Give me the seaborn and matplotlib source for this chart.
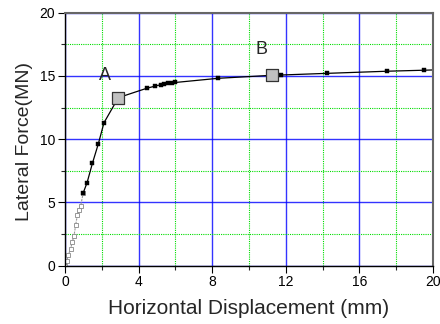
import matplotlib
matplotlib.use("Agg")
import matplotlib.pyplot as plt
import seaborn as sns
import numpy as np
import pandas as pd
from matplotlib.ticker import MultipleLocator

# Data
disp_low = [0.0, 0.1, 0.18, 0.3, 0.4, 0.49, 0.58, 0.67, 0.76, 0.85, 0.995]
force_low = [0.0, 0.4, 0.85, 1.3, 1.9, 2.37, 3.2, 4.0, 4.4, 4.72, 5.77]
disp_main = [0.995, 1.2, 1.49, 1.81, 2.12, 2.9, 4.44, 4.91, 5.2, 5.4, 5.6, 5.8, 6.0,
             8.33, 11.27, 11.74, 14.22, 17.52, 19.53, 20.0]
force_main = [5.77, 6.56, 8.09, 9.62, 11.3, 13.28, 14.02, 14.2, 14.3, 14.37, 14.42, 14.46, 14.48,
              14.81, 15.05, 15.07, 15.2, 15.37, 15.45, 15.47]
disp_marks = [0.995, 1.2, 1.49, 1.81, 2.12, 4.44, 4.91, 5.2, 5.4, 5.6, 5.8, 6.0,
              8.33, 11.74, 14.22, 17.52, 19.53]
force_marks = [5.77, 6.56, 8.09, 9.62, 11.3, 14.02, 14.2, 14.3, 14.37, 14.42, 14.46, 14.48,
               14.81, 15.07, 15.2, 15.37, 15.45]
key_disp = [2.9, 11.27]
key_force = [13.28, 15.05]
key_labels = ["A", "B"]

sns.set_style("white")
plt.rcParams['font.family'] = ['Liberation Sans', 'DejaVu Sans']

fig = plt.figure(figsize=(4.4, 3.24), dpi=100)
ax = fig.add_axes([0.1477, 0.18, 0.984 - 0.1477, 0.961 - 0.18])

# grid
ax.set_xlim(0, 20)
ax.set_ylim(0, 20)
ax.xaxis.set_major_locator(MultipleLocator(4))
ax.xaxis.set_minor_locator(MultipleLocator(2))
ax.yaxis.set_major_locator(MultipleLocator(5))
ax.yaxis.set_minor_locator(MultipleLocator(2.5))
ax.grid(which='major', color='#0000ff', linewidth=1.0, linestyle='-', alpha=0.8)
ax.grid(which='minor', color='#00dd00', linewidth=0.8, linestyle=(0, (1, 1)))
ax.set_axisbelow(True)

df_low = pd.DataFrame({"x": disp_low, "y": force_low})
sns.lineplot(data=df_low, x="x", y="y", ax=ax, color='#999999', linewidth=0.8,
             linestyle=(0, (2, 1)), sort=False, estimator=None,
             marker='s', markersize=3, markerfacecolor='white', markeredgecolor='#888888',
             markeredgewidth=0.6)

df_main = pd.DataFrame({"x": disp_main, "y": force_main})
sns.lineplot(data=df_main, x="x", y="y", ax=ax, color='black', linewidth=0.9,
             sort=False, estimator=None, clip_on=False)

df_marks = pd.DataFrame({"x": disp_marks, "y": force_marks})
sns.scatterplot(data=df_marks, x="x", y="y", ax=ax, marker='s', s=12, color='black',
                edgecolor='black', linewidth=0.3, zorder=4)

df_key = pd.DataFrame({"x": key_disp, "y": key_force})
sns.scatterplot(data=df_key, x="x", y="y", ax=ax, marker='s', s=85, color='#c0c0c0',
                edgecolor='#333333', linewidth=0.9, zorder=5)

ax.text(2.2, 15.05, key_labels[0], fontsize=13, ha='center', va='center')
ax.text(10.7, 17.1, key_labels[1], fontsize=13, ha='center', va='center')

for s in ['left', 'bottom']:
    ax.spines[s].set_color('black')
    ax.spines[s].set_linewidth(1.0)
for s in ['top', 'right']:
    ax.spines[s].set_color('#666666')
    ax.spines[s].set_linewidth(1.5)
    ax.spines[s].set_visible(True)

ax.tick_params(axis='both', which='major', direction='out', length=5, width=0.8,
               labelsize=10, colors='black', bottom=True, left=True, pad=2)
ax.tick_params(axis='both', which='minor', direction='out', length=3, width=0.8,
               bottom=True, left=True)

ax.set_xlabel("Horizontal Displacement (mm)", fontsize=15, labelpad=7)
ax.set_ylabel("Lateral Force(MN)", fontsize=14)
ax.yaxis.set_label_coords(-0.087, 0.49)

fig.savefig("out.png", dpi=100)
